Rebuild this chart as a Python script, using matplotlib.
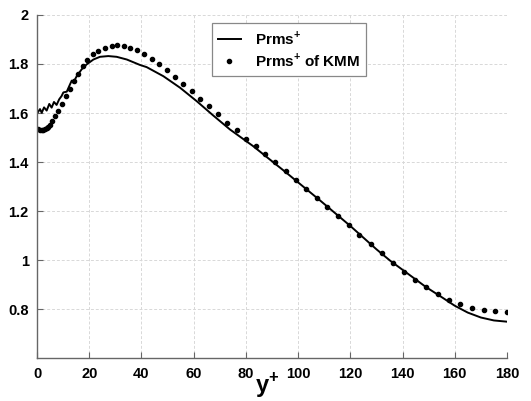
import matplotlib
matplotlib.use("Agg")
import matplotlib.pyplot as plt

plt.rcParams['font.family'] = ['Liberation Sans', 'DejaVu Sans']
plt.rcParams['font.weight'] = 'bold'
plt.rcParams['mathtext.fontset'] = 'custom'
plt.rcParams['mathtext.bf'] = 'Liberation Sans:bold'
plt.rcParams['mathtext.rm'] = 'Liberation Sans:bold'

# present simulation (solid line)
yplus_sim = [0, 1.15, 1.8, 2.7, 3.7, 4.7, 5.6, 6.5, 7.5, 8.5, 9.4, 10.1, 11.4, 12.4,
             13.3, 13.9, 15.2, 17.1, 19.0, 21.6, 24.1, 27.3, 30.5, 34.4, 39.4, 42,
             45.8, 48.4, 54.8, 61.2, 67.5, 73.9, 82.8, 95.6, 108.4, 120, 130, 135.2,
             149, 155, 160, 165, 170, 175, 180]
prms_sim = [1.598, 1.616, 1.601, 1.623, 1.610, 1.637, 1.622, 1.645, 1.633, 1.656,
            1.669, 1.684, 1.687, 1.711, 1.732, 1.724, 1.750, 1.778, 1.798, 1.818,
            1.829, 1.832, 1.829, 1.818, 1.796, 1.787, 1.765, 1.750, 1.703, 1.648,
            1.590, 1.533, 1.465, 1.356, 1.244, 1.140, 1.045, 0.999, 0.891, 0.850,
            0.815, 0.787, 0.767, 0.755, 0.750]

# KMM reference data (dots)
yplus_kmm = [0.5, 1.15, 1.8, 2.4, 3.1, 3.7, 4.3, 5.0, 5.9, 6.9, 8.2, 9.4, 11.0, 12.6,
             14.3, 15.8, 17.5, 19.3, 21.3, 23.5, 26.0, 28.6, 30.8, 33.3, 35.6, 38.2,
             41.0, 43.9, 46.8, 49.7, 52.9, 56.0, 59.2, 62.4, 65.9, 69.3, 72.9, 76.5,
             80.0, 83.7, 87.5, 91.3, 95.2, 99.2, 103.0, 107.1, 111.2, 115.3, 119.4,
             123.4, 127.8, 132.0, 136.2, 140.6, 144.8, 149.0, 153.5, 157.8, 162.1,
             166.6, 171.1, 175.4, 179.9]
prms_kmm = [1.535, 1.530, 1.529, 1.530, 1.533, 1.537, 1.544, 1.553, 1.569, 1.587,
            1.607, 1.635, 1.669, 1.699, 1.730, 1.761, 1.791, 1.816, 1.839, 1.853,
            1.866, 1.874, 1.877, 1.874, 1.866, 1.856, 1.842, 1.822, 1.800, 1.775,
            1.748, 1.719, 1.689, 1.659, 1.627, 1.594, 1.561, 1.529, 1.496, 1.467,
            1.433, 1.401, 1.365, 1.329, 1.292, 1.254, 1.216, 1.179, 1.142, 1.104,
            1.066, 1.028, 0.991, 0.954, 0.920, 0.891, 0.863, 0.839, 0.822, 0.807,
            0.797, 0.793, 0.791]

xticks = [0, 20, 40, 60, 80, 100, 120, 140, 160, 180]
yticks = [0.8, 1.0, 1.2, 1.4, 1.6, 1.8, 2.0]
ytick_labels = ["0.8", "1", "1.2", "1.4", "1.6", "1.8", "2"]

fig = plt.figure(figsize=(5.31, 4.01), dpi=100)
ax = fig.add_axes([0.0697, 0.106, 0.885, 0.857])

ax.plot(yplus_sim, prms_sim, color="black", lw=1.4, label=r"Prms$^{\mathbf{+}}$")
ax.plot(yplus_kmm, prms_kmm, linestyle="none", marker="o", ms=3.0, color="black",
        label=r"Prms$^{\mathbf{+}}$ of KMM")

ax.set_xlim(0, 180)
ax.set_ylim(0.6, 2.0)
ax.set_xticks(xticks)
ax.set_yticks(yticks)
ax.set_yticklabels(ytick_labels)
ax.tick_params(direction="in", length=4, color="#666666", labelsize=10.5, pad=6)
for lab in ax.get_xticklabels() + ax.get_yticklabels():
    lab.set_fontweight("bold")

for s in ["top", "right"]:
    ax.spines[s].set_visible(False)
for s in ["left", "bottom"]:
    ax.spines[s].set_color("#666666")
    ax.spines[s].set_linewidth(1.0)

ax.grid(True, color="#d8d8d8", linestyle=(0, (3, 2)), lw=0.7)
ax.set_axisbelow(True)

leg = ax.legend(loc="upper left", bbox_to_anchor=(0.372, 0.977), borderaxespad=0,
                fancybox=False, edgecolor="#888888", framealpha=1, handlelength=1.5,
                handletextpad=0.9, borderpad=0.4, labelspacing=0.3,
                prop={"weight": "bold", "size": 11})
leg.get_frame().set_linewidth(0.9)

fig.text(267 / 531, 1 - 385 / 401, r"y$^{\mathbf{+}}$", fontsize=17, fontweight="bold",
         ha="center", va="center")

fig.savefig("out.png", dpi=100)
